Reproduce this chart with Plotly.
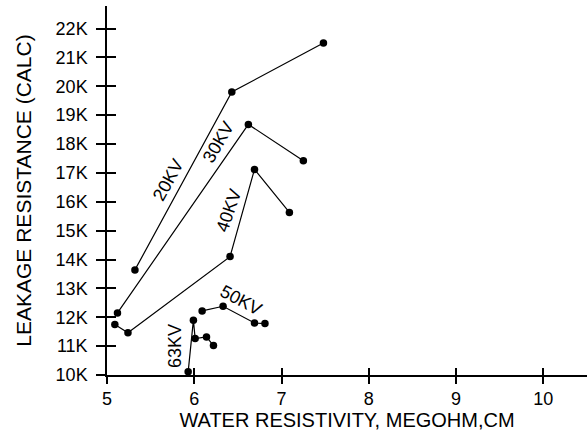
import plotly.graph_objects as go

# Data (water resistivity in megohm-cm, leakage resistance in K)
kv20_x = [5.32, 6.43, 7.48]
kv20_y = [13.64, 19.80, 21.50]
kv30_x = [5.12, 6.62, 7.25]
kv30_y = [12.15, 18.68, 17.42]
kv40_x = [5.09, 5.24, 6.41, 6.69, 7.09]
kv40_y = [11.75, 11.46, 14.10, 17.12, 15.63]
kv50_x = [6.09, 6.33, 6.69, 6.81]
kv50_y = [12.22, 12.38, 11.80, 11.78]
kv63_x = [5.93, 5.99, 6.01, 6.14, 6.22]
kv63_y = [10.11, 11.90, 11.26, 11.32, 11.02]

series = [("20KV", kv20_x, kv20_y), ("30KV", kv30_x, kv30_y), ("40KV", kv40_x, kv40_y),
          ("50KV", kv50_x, kv50_y), ("63KV", kv63_x, kv63_y)]

x_ticks = [5, 6, 7, 8, 9, 10]
y_ticks = list(range(10, 23))
y_tick_labels = [f"{v}K" for v in y_ticks]

FONT = "Liberation Sans, Arial, sans-serif"

fig = go.Figure()
for name, xs, ys in series:
    fig.add_trace(go.Scatter(x=xs, y=ys, mode="lines+markers", name=name,
                             line=dict(color="black", width=1.2),
                             marker=dict(color="black", size=7.5),
                             cliponaxis=False, showlegend=False))
# empty trace to create the overlay axes (inside halves of crossing ticks)
fig.add_trace(go.Scatter(x=[], y=[], xaxis="x2", yaxis="y2", showlegend=False))

labels = [("20KV", 5.70, 16.76, -61), ("30KV", 6.275, 18.08, -60), ("40KV", 6.40, 15.70, -71),
          ("50KV", 6.53, 12.59, 28), ("63KV", 5.785, 10.99, -90)]
for text, lx, ly, ang in labels:
    fig.add_annotation(x=lx, y=ly, text=text, showarrow=False, textangle=ang,
                       font=dict(family=FONT, size=18, color="black"))

xr = [5, 10.5]
yr = [10, 22.78]
axis_font = dict(family=FONT, size=18, color="black")
fig.update_layout(
    width=588, height=432,
    margin=dict(l=107, r=1, t=6, b=57),
    paper_bgcolor="white", plot_bgcolor="white",
    font=dict(family=FONT, color="black"),
    xaxis=dict(range=xr, tickvals=x_ticks, ticktext=[str(v) for v in x_ticks],
               showgrid=False, zeroline=False, showline=True, linecolor="black", linewidth=1.5,
               ticks="outside", ticklen=7, tickwidth=1.5, tickcolor="black",
               tickfont=axis_font, automargin=False,
               title=dict(text="WATER RESISTIVITY, MEGOHM,CM", font=dict(family=FONT, size=20), standoff=4)),
    yaxis=dict(range=yr, tickvals=y_ticks, ticktext=y_tick_labels,
               showgrid=False, zeroline=False, showline=True, linecolor="black", linewidth=1.5,
               ticks="outside", ticklen=9, tickwidth=1.5, tickcolor="black",
               tickfont=axis_font, ticklabelstandoff=5, automargin=False,
               title=dict(text="LEAKAGE RESISTANCE (CALC)", font=dict(family=FONT, size=21), standoff=18)),
    xaxis2=dict(range=xr, overlaying="x", anchor="y2", side="bottom", tickvals=x_ticks,
                showticklabels=False, showgrid=False, zeroline=False, showline=False,
                ticks="inside", ticklen=7, tickwidth=1.5, tickcolor="black", automargin=False),
    yaxis2=dict(range=yr, overlaying="y", anchor="x2", side="left", tickvals=y_ticks,
                showticklabels=False, showgrid=False, zeroline=False, showline=False,
                ticks="inside", ticklen=9, tickwidth=1.5, tickcolor="black", automargin=False),
)

fig.write_html("out.html", config={"displayModeBar": False},
               post_script="document.body.style.margin='0';")
